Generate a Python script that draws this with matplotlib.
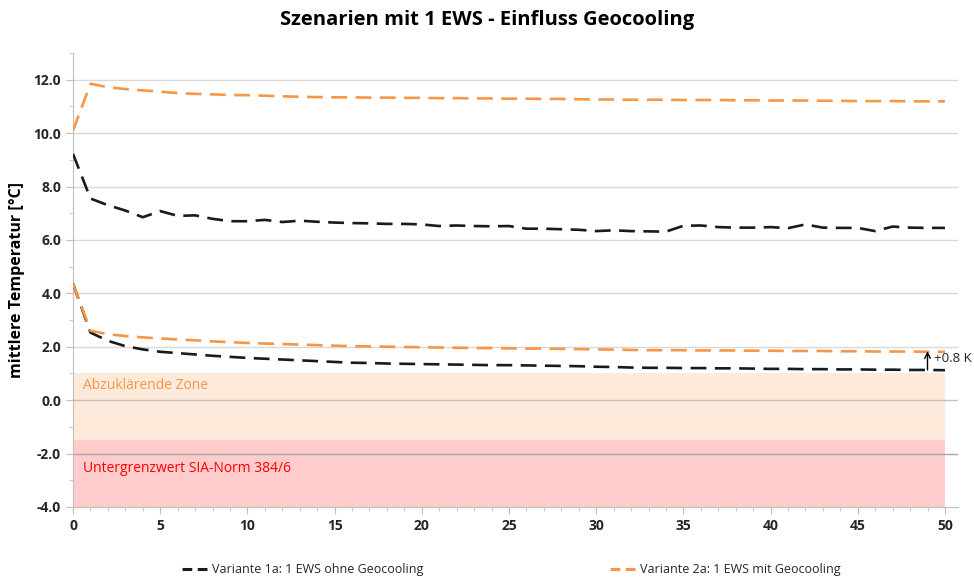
import matplotlib
matplotlib.use("Agg")
import matplotlib.pyplot as plt
from matplotlib.lines import Line2D
from matplotlib.ticker import MultipleLocator, FormatStrFormatter

plt.rcParams['font.family'] = ['Open Sans', 'DejaVu Sans']

years = list(range(0, 51))

# Variante 1a: 1 EWS ohne Geocooling (upper and lower curve)
v1a_upper = [9.22, 7.55, 7.30, 7.10, 6.85, 7.08, 6.90, 6.92, 6.79, 6.70,
             6.70, 6.75, 6.67, 6.72, 6.68, 6.65, 6.63, 6.62, 6.60, 6.60,
             6.58, 6.52, 6.54, 6.52, 6.51, 6.52, 6.42, 6.42, 6.40, 6.38,
             6.33, 6.36, 6.33, 6.32, 6.31, 6.53, 6.54, 6.48, 6.46, 6.46,
             6.48, 6.44, 6.58, 6.46, 6.45, 6.45, 6.33, 6.50, 6.46, 6.45,
             6.45]
v1a_lower = [4.36, 2.53, 2.22, 2.02, 1.90, 1.81, 1.76, 1.71, 1.66, 1.62,
             1.58, 1.55, 1.52, 1.49, 1.46, 1.43, 1.40, 1.39, 1.37, 1.36,
             1.35, 1.34, 1.33, 1.32, 1.31, 1.31, 1.30, 1.29, 1.28, 1.27,
             1.25, 1.24, 1.22, 1.21, 1.21, 1.20, 1.20, 1.19, 1.19, 1.18,
             1.17, 1.17, 1.16, 1.16, 1.15, 1.15, 1.14, 1.14, 1.13, 1.13,
             1.12]

# Variante 2a: 1 EWS mit Geocooling (upper and lower curve)
v2a_upper = [10.10, 11.85, 11.72, 11.65, 11.60, 11.55, 11.50, 11.47, 11.45, 11.43,
             11.42, 11.40, 11.38, 11.36, 11.35, 11.34, 11.34, 11.33, 11.33, 11.32,
             11.32, 11.31, 11.31, 11.30, 11.30, 11.29, 11.29, 11.28, 11.28, 11.27,
             11.26, 11.26, 11.25, 11.25, 11.25, 11.24, 11.24, 11.24, 11.23, 11.23,
             11.22, 11.22, 11.22, 11.21, 11.21, 11.20, 11.20, 11.20, 11.19, 11.19,
             11.19]
v2a_lower = [4.36, 2.60, 2.47, 2.40, 2.35, 2.31, 2.27, 2.24, 2.20, 2.17,
             2.14, 2.12, 2.10, 2.08, 2.06, 2.04, 2.02, 2.01, 2.00, 1.99,
             1.98, 1.97, 1.96, 1.95, 1.95, 1.94, 1.93, 1.93, 1.92, 1.91,
             1.90, 1.89, 1.88, 1.87, 1.87, 1.87, 1.86, 1.86, 1.86, 1.85,
             1.85, 1.84, 1.84, 1.84, 1.83, 1.83, 1.82, 1.82, 1.82, 1.81,
             1.81]

label_1a = "Variante 1a: 1 EWS ohne Geocooling"
label_2a = "Variante 2a: 1 EWS mit Geocooling"
title = "Szenarien mit 1 EWS - Einfluss Geocooling"
ylabel = "mittlere Temperatur [°C]"

zone_abkl = (-1.5, 1.0)
zone_sia = (-4.0, -1.5)
zone_x = (0, 50)

c_black = "#1a1a1a"
c_orange = "#F79646"

fig = plt.figure(figsize=(9.74, 5.8), dpi=100)
ax = fig.add_axes([0.075, 0.126, 0.9086, 0.7826])

ax.set_xlim(0, 50.75)
ax.set_ylim(-4, 13)

# zones
ax.fill_between(zone_x, zone_abkl[0], zone_abkl[1], color="#FDEADA", lw=0, zorder=0)
ax.fill_between(zone_x, zone_sia[0], zone_sia[1], color="#FFCCCC", lw=0, zorder=0)

# grid
for yv in range(-2, 13, 2):
    col = "#D9D9D9" if yv > 0 else ("#BFBFBF" if yv == 0 else "#A6A6A6")
    ax.axhline(yv, color=col, lw=1.0, zorder=1)

dash = (0, (6.0, 3.2))
ax.plot(years, v1a_upper, color=c_black, lw=1.9, ls=dash, zorder=3)
ax.plot(years, v1a_lower, color=c_black, lw=1.9, ls=dash, zorder=3)
ax.plot(years, v2a_upper, color=c_orange, lw=1.9, ls=dash, zorder=3)
ax.plot(years, v2a_lower, color=c_orange, lw=1.9, ls=dash, zorder=3)

# zone labels
ax.text(0.55, 0.55, "Abzuklärende Zone", color=c_orange, fontsize=10, va="center", ha="left", zorder=4)
ax.text(0.55, -2.55, "Untergrenzwert SIA-Norm 384/6", color="#FF0000", fontsize=10, va="center", ha="left", zorder=4)

# difference annotation
ax.annotate("", xy=(49.0, v2a_lower[49] + 0.02), xytext=(49.0, v1a_lower[49]),
            arrowprops=dict(arrowstyle="->", color="black", lw=1.0, shrinkA=0, shrinkB=0), zorder=5)
ax.text(49.35, 1.55, "+0.8 K", fontsize=9.5, va="center", ha="left", color="#222222")

# axes styling
for s in ("top", "right"):
    ax.spines[s].set_visible(False)
ax.spines["left"].set_color("#BFBFBF")
ax.spines["bottom"].set_color("#BFBFBF")
ax.spines["left"].set_zorder(2)

ax.yaxis.set_major_locator(MultipleLocator(2))
ax.yaxis.set_minor_locator(MultipleLocator(1))
ax.yaxis.set_major_formatter(FormatStrFormatter("%.1f"))
ax.xaxis.set_major_locator(MultipleLocator(5))
ax.xaxis.set_minor_locator(MultipleLocator(1))
ax.tick_params(axis="both", which="major", length=5, color="#BFBFBF", labelsize=10)
ax.tick_params(axis="both", which="minor", length=3, color="#BFBFBF")
ax.set_yticks([t for t in range(-4, 13, 2)])
for lab in ax.get_xticklabels() + ax.get_yticklabels():
    lab.set_fontweight("bold")
    lab.set_color("#262626")

ax.set_ylabel(ylabel, fontsize=11.5, fontweight="bold", labelpad=6)
fig.text(0.5, 0.965, title, ha="center", va="center", fontsize=14.5, fontweight="bold")

handles = [Line2D([], [], color=c_black, lw=2.2, ls=(0, (3.2, 1.8))),
           Line2D([], [], color=c_orange, lw=2.2, ls=(0, (3.2, 1.8)))]
leg = fig.legend(handles, [label_1a, label_2a], loc="center", bbox_to_anchor=(0.525, 0.018),
                 ncol=2, frameon=False, fontsize=9, handlelength=2.0,
                 columnspacing=15, handletextpad=0.4)
for t in leg.get_texts():
    t.set_color("#262626")

fig.savefig("out.png", dpi=100)
